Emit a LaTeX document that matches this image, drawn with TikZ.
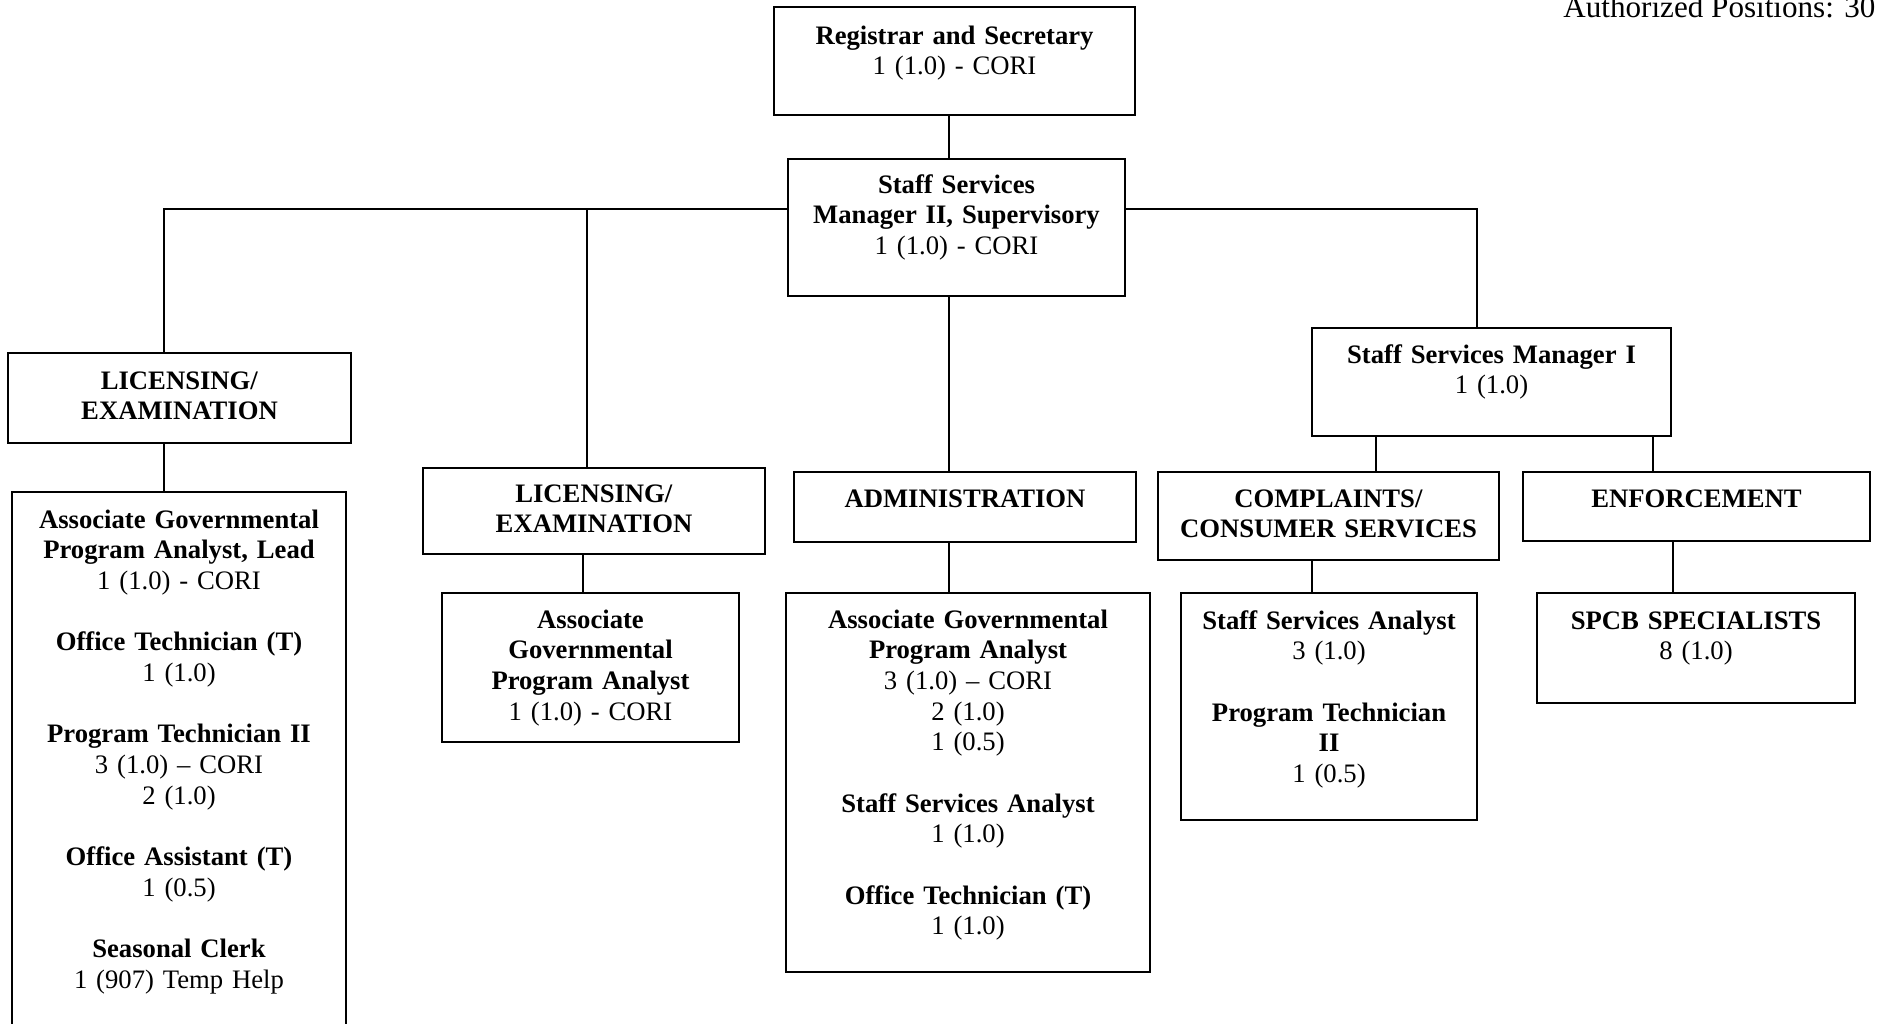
\documentclass[tikz,border=0pt]{standalone}
\usepackage{fontspec}
\setmainfont{Liberation Serif}
\usetikzlibrary{fit}
\begin{document}
\begin{tikzpicture}[x=0.45pt,y=-0.45pt,
  box/.style={draw, line width=1.2pt, inner sep=0pt},
  link/.style={draw, line width=1.0pt},
  lbl/.style={anchor=base, inner sep=0pt, align=center, text width=170pt,
              font=\fontsize{12pt}{13.8pt}\selectfont},
]
\useasboundingbox (0,0) rectangle (1877,1023);
\clip (0,0) rectangle (1877,1023);

% header note
\node[anchor=base west, inner sep=0pt, font=\fontsize{14pt}{16pt}\selectfont]
  (auth) at (1563,17) {Authorized Positions: 30};

% top of the chart
\node[box, fit={(774,7) (1135,115)}] (reg) {};
\node[lbl] (reg-t) at (954.5,44) {\textbf{Registrar and Secretary}\\1 (1.0) - CORI};

\node[box, fit={(788,159) (1125,296)}] (ssm2) {};
\node[lbl] (ssm2-t) at (956.5,193)
  {\textbf{Staff Services}\\\textbf{Manager II, Supervisory}\\1 (1.0) - CORI};

% licensing / examination (left)
\node[box, fit={(8,353) (351,443)}] (le1) {};
\node[lbl] (le1-t) at (179.5,389) {\textbf{LICENSING/}\\\textbf{EXAMINATION}};

\node[box, fit={(12,492) (346,1060)}] (list1) {};
\node[lbl] (list1-t) at (179,528)
  {\textbf{Associate Governmental}\\\textbf{Program Analyst, Lead}\\1 (1.0) - CORI\\[13.8pt]
   \textbf{Office Technician (T)}\\1 (1.0)\\[13.8pt]
   \textbf{Program Technician II}\\3 (1.0) – CORI\\2 (1.0)\\[13.8pt]
   \textbf{Office Assistant (T)}\\1 (0.5)\\[13.8pt]
   \textbf{Seasonal Clerk}\\1 (907) Temp Help};

% licensing / examination (middle)
\node[box, fit={(423,468) (765,554)}] (le2) {};
\node[lbl] (le2-t) at (594,502) {\textbf{LICENSING/}\\\textbf{EXAMINATION}};

\node[box, fit={(442,593) (739,742)}] (agpa) {};
\node[lbl] (agpa-t) at (590.5,628)
  {\textbf{Associate}\\\textbf{Governmental}\\\textbf{Program Analyst}\\1 (1.0) - CORI};

% administration
\node[box, fit={(794,472) (1136,542)}] (adm) {};
\node[lbl] (adm-t) at (965,507) {\textbf{ADMINISTRATION}};

\node[box, fit={(786,593) (1150,972)}] (admlist) {};
\node[lbl] (admlist-t) at (968,628)
  {\textbf{Associate Governmental}\\\textbf{Program Analyst}\\3 (1.0) – CORI\\2 (1.0)\\1 (0.5)\\[13.8pt]
   \textbf{Staff Services Analyst}\\1 (1.0)\\[13.8pt]
   \textbf{Office Technician (T)}\\1 (1.0)};

% manager I branch
\node[box, fit={(1312,328) (1671,436)}] (ssm1) {};
\node[lbl] (ssm1-t) at (1491.5,363) {\textbf{Staff Services Manager I}\\1 (1.0)};

\node[box, fit={(1158,472) (1499,560)}] (cmp) {};
\node[lbl] (cmp-t) at (1328.5,507) {\textbf{COMPLAINTS/}\\\textbf{CONSUMER SERVICES}};

\node[box, fit={(1523,472) (1870,541)}] (enf) {};
\node[lbl] (enf-t) at (1696.5,507) {\textbf{ENFORCEMENT}};

\node[box, fit={(1181,593) (1477,820)}] (ssa) {};
\node[lbl] (ssa-t) at (1329,629)
  {\textbf{Staff Services Analyst}\\3 (1.0)\\[13.8pt]
   \textbf{Program Technician}\\\textbf{II}\\1 (0.5)};

\node[box, fit={(1537,593) (1855,703)}] (spcb) {};
\node[lbl] (spcb-t) at (1696,629) {\textbf{SPCB SPECIALISTS}\\8 (1.0)};

% connector guides
\coordinate (bus)   at (0,209);
\coordinate (xle1)  at (164,0);
\coordinate (xle2)  at (587,0);
\coordinate (xagpa) at (583,0);
\coordinate (xmid)  at (949,0);
\coordinate (xssm1) at (1477,0);
\coordinate (xcmp)  at (1376,0);
\coordinate (xenf)  at (1653,0);
\coordinate (xssa)  at (1312,0);
\coordinate (xspcb) at (1673,0);

% connectors
\draw[link] (xmid |- reg.south) -- (xmid |- ssm2.north);
\draw[link] (ssm2.west |- bus) -| (xle1 |- le1.north);
\draw[link] (xle2 |- bus) -- (xle2 |- le2.north);
\draw[link] (ssm2.east |- bus) -| (xssm1 |- ssm1.north);
\draw[link] (xmid |- ssm2.south) -- (xmid |- adm.north);
\draw[link] (xle1 |- le1.south) -- (xle1 |- list1.north);
\draw[link] (xagpa |- le2.south) -- (xagpa |- agpa.north);
\draw[link] (xmid |- adm.south) -- (xmid |- admlist.north);
\draw[link] (xcmp |- ssm1.south) -- (xcmp |- cmp.north);
\draw[link] (xenf |- ssm1.south) -- (xenf |- enf.north);
\draw[link] (xssa |- cmp.south) -- (xssa |- ssa.north);
\draw[link] (xspcb |- enf.south) -- (xspcb |- spcb.north);
\end{tikzpicture}
\end{document}
